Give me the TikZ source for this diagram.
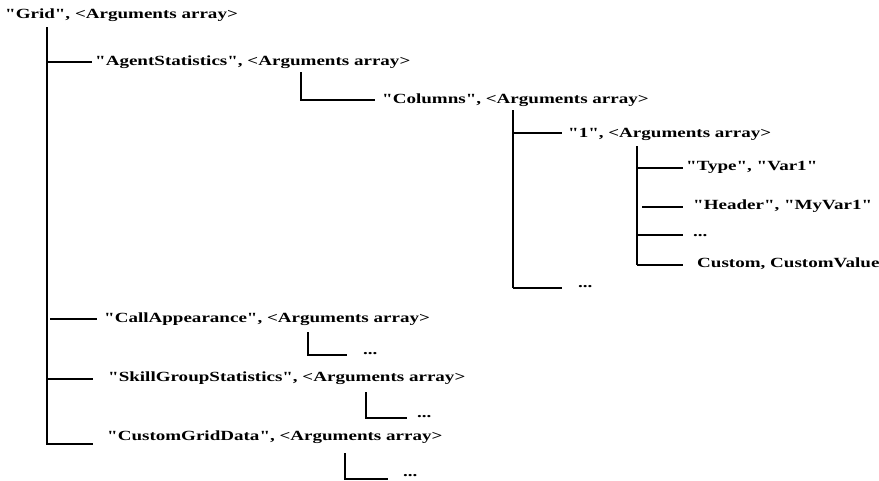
\documentclass[tikz,border=0pt]{standalone}
\usepackage{fontspec}
\font\treefont="Liberation Serif/B:extend=1.36;mapping=" at 14pt
\usepackage{tikz}

\tikzset{
  lbl/.style={anchor=west, inner sep=0pt, text height=10pt, text depth=3pt, font=\treefont},
  branch/.style={line width=1.3pt},
  heavy/.style={line width=2.6pt}
}

\begin{document}
\begin{tikzpicture}[x=1pt,y=-1pt]
\useasboundingbox (0,0) rectangle (879,480);

\node[lbl] (grid) at (5,15) {"Grid", <Arguments array>};
\node[lbl] (agent) at (95,62) {"AgentStatistics", <Arguments array>};
\node[lbl] (columns) at (382,100) {"Columns", <Arguments array>};
\node[lbl] (one) at (568,134) {"1", <Arguments array>};
\node[lbl] (type) at (686,167) {"Type", "Var1"};
\node[lbl] (header) at (693,206) {"Header", "MyVar1"};
\node[lbl] (onedots) at (693,233) {...};
\node[lbl] (custom) at (697,264) {Custom, CustomValue};
\node[lbl] (coldots) at (578,284) {...};
\node[lbl] (call) at (104,319) {"CallAppearance", <Arguments array>};
\node[lbl] (calldots) at (363,351) {...};
\node[lbl] (skill) at (108,378) {"SkillGroupStatistics", <Arguments array>};
\node[lbl] (skilldots) at (417,414) {...};
\node[lbl] (cgd) at (107,437) {"CustomGridData", <Arguments array>};
\node[lbl] (cgddots) at (403,473) {...};

\coordinate (gridbar) at (47,27);
\coordinate (agentend) at (92,62);
\coordinate (callend) at (97,319);
\coordinate (skillend) at (93,379);
\coordinate (cgdend) at (93,444);
\draw[branch] (gridbar) |- (cgdend);
\draw[branch] (gridbar |- agentend) -- (agentend);
\draw[branch] ([xshift=3pt]gridbar |- callend) -- (callend);
\draw[heavy] (gridbar |- skillend) -- (skillend);

\coordinate (agentbar) at (301,72);
\coordinate (columnsend) at (375,100);
\draw[branch] (agentbar) |- (columnsend);

\coordinate (columnsbar) at (513,110);
\coordinate (oneend) at (562,133);
\coordinate (coldotsend) at (562,288);
\draw[heavy] (columnsbar) -- (columnsbar |- coldotsend);
\draw[branch] (columnsbar |- oneend) -- (oneend);
\draw[branch] (columnsbar |- coldotsend) -- (coldotsend);

\coordinate (onebar) at (637,146);
\coordinate (typeend) at (683,168);
\coordinate (headerend) at (683,207);
\coordinate (onedotsend) at (683,235);
\coordinate (customend) at (683,265);
\draw[branch] (onebar) -- (onebar |- customend);
\draw[branch] (onebar |- typeend) -- (typeend);
\draw[branch] ([xshift=5pt]onebar |- headerend) -- (headerend);
\draw[branch] (onebar |- onedotsend) -- (onedotsend);
\draw[heavy] (onebar |- customend) -- (customend);

\coordinate (callbar) at (308,332);
\coordinate (calldotsend) at (347,355);
\draw[heavy] (callbar) |- (calldotsend);

\coordinate (skillbar) at (366,392);
\coordinate (skilldotsend) at (407,418);
\draw[heavy] (skillbar) |- (skilldotsend);

\coordinate (cgdbar) at (345,453);
\coordinate (cgddotsend) at (388,479);
\draw[branch] (cgdbar) |- (cgddotsend);

\end{tikzpicture}
\end{document}
